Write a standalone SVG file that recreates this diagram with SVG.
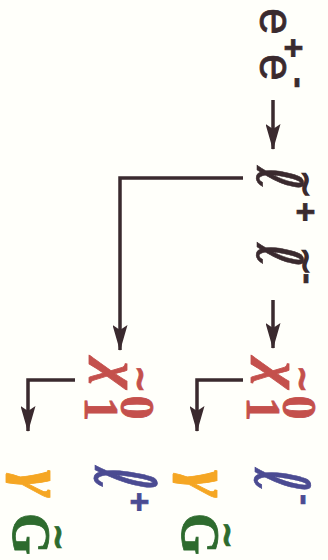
<svg xmlns="http://www.w3.org/2000/svg" width="328" height="560" viewBox="0 0 328 560">
<style>
.dk{fill:#3a2a2e;stroke:#3a2a2e}
.rd{fill:#c4504c;stroke:#c4504c}
.or{fill:#f5a623;stroke:#f5a623}
.bl{fill:#4b4b92;stroke:#4b4b92}
.gr{fill:#2e6b2e;stroke:#2e6b2e}
text{stroke-width:0.8}
.sans{font-family:"Liberation Sans",Arial,sans-serif;font-size:48px}
.sgn{font-family:"Liberation Sans",Arial,sans-serif;font-weight:bold;font-size:34px}
.ell{font-family:"DejaVu Sans",sans-serif;font-size:60px;stroke-width:0.5}
.til{font-family:"DejaVu Sans",sans-serif;font-size:34px;stroke-width:1.6}
.tilc{font-family:"DejaVu Sans",sans-serif;font-weight:bold;font-size:34px}
.gk{font-family:"Liberation Serif","Times New Roman",serif;font-style:italic;font-weight:bold}
.gG{font-family:"Liberation Serif","Times New Roman",serif;font-weight:bold;font-size:54px}
.dig{font-family:"Liberation Serif","Times New Roman",serif;font-weight:bold;font-size:48px}
.cn{fill:none;stroke:#3a2a2e;stroke-width:3.5}
</style>
<defs>
<marker id="ah" viewBox="0 0 26 15" refX="25" refY="7.5" markerWidth="26" markerHeight="15" markerUnits="userSpaceOnUse" orient="auto">
<path d="M0,0 L26,7.5 L0,15 L5,7.5 z" fill="#3a2a2e"/>
</marker>
</defs>
<rect width="328" height="560" fill="#fffffa"/>
<g id="connectors">
<path class="cn" d="M273,100 V149" marker-end="url(#ah)"/>
<path class="cn" d="M273,300 V348" marker-end="url(#ah)"/>
<path class="cn" d="M243,178 H120 V350" marker-end="url(#ah)"/>
<path class="cn" d="M243,380 H197 V431" marker-end="url(#ah)"/>
<path class="cn" d="M75,380 H28 V431" marker-end="url(#ah)"/>
</g>
<g transform="translate(328,0) rotate(90)">
<g id="n-ee">
<text class="sans dk" x="8" y="68">e</text>
<text class="sgn dk" x="38" y="46">+</text>
<text class="sans dk" x="54" y="68">e</text>
<text class="sgn dk" x="77" y="40">-</text>
</g>
<g id="n-sleptons">
<text class="ell dk" transform="translate(166,71) scale(1,1.05)">ℓ</text>
<text class="til dk" x="170" y="33">~</text>
<text class="sgn dk" x="202" y="34">+</text>
<text class="ell dk" transform="translate(243,71) scale(1,1.05)">ℓ</text>
<text class="til dk" x="247" y="33">~</text>
<text class="sgn dk" x="273" y="31">-</text>
</g>
<g id="n-chi-right">
<text class="gk rd" x="362" y="65" font-size="58">χ</text>
<text class="tilc rd" x="365" y="37">~</text>
<text class="dig rd" x="397" y="81">1</text>
<text class="dig rd" x="395.5" y="45">0</text>
</g>
<g id="n-chi-left">
<text class="gk rd" x="362" y="227" font-size="58">χ</text>
<text class="tilc rd" x="365" y="199">~</text>
<text class="dig rd" x="397" y="243">1</text>
<text class="dig rd" x="395.5" y="207">0</text>
</g>
<g id="n-gamma-left">
<text class="gk or" x="470" y="307.6" font-size="66">γ</text>
</g>
<g id="n-gravitino-left">
<text class="gG gr" x="513" y="315">G</text>
<text class="tilc gr" x="523" y="281">~</text>
</g>
<g id="n-lplus">
<text class="ell bl" transform="translate(466,233) scale(1,1.4)">ℓ</text>
<text class="sgn bl" x="492" y="200">+</text>
</g>
<g id="n-gamma-right">
<text class="gk or" x="470" y="140.6" font-size="66">γ</text>
</g>
<g id="n-gravitino-right">
<text class="gG gr" x="513" y="146">G</text>
<text class="tilc gr" x="521" y="112">~</text>
</g>
<g id="n-lminus">
<text class="ell bl" transform="translate(468,73) scale(1,1.25)">ℓ</text>
<text class="sgn bl" x="494" y="34">-</text>
</g>
</g>
</svg>
